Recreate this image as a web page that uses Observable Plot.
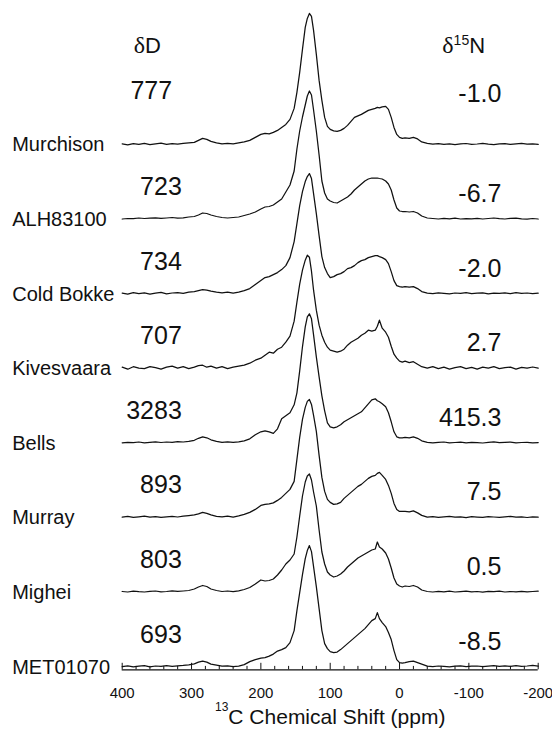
<!DOCTYPE html>
<html>
<head>
<meta charset="utf-8">
<script src="https://cdn.jsdelivr.net/npm/d3@7"></script>
<script src="https://cdn.jsdelivr.net/npm/@observablehq/plot@0.6"></script>
<style>
  html, body { margin: 0; padding: 0; background: #fff; }
  #chart svg { display: block; }
</style>
</head>
<body>
<div id="chart"></div>
<script>
// ---------------- data ----------------
const samples = ["Murchison", "ALH83100", "Cold Bokke", "Kivesvaara", "Bells", "Murray", "Mighei", "MET01070"];
const deltaD = ["777", "723", "734", "707", "3283", "893", "803", "693"];
const delta15N = ["-1.0", "-6.7", "-2.0", "2.7", "415.3", "7.5", "0.5", "-8.5"];

// 13C chemical shift grid (ppm)
const ppm = [400,392,384,376,368,360,352,344,336,328,320,312,304,296,
  290,284,278,272,
  264,256,248,240,232,224,216,208,200,
  194,188,182,176,170,164,158,152,
  148,144,140,136,133,130,127,124,120,116,112,108,104,100,
  95,90,85,80,75,70,65,60,55,50,45,40,35,
  32,29,25,20,16,12,8,4,0,
  -4,-8,-14,-20,-26,-32,
  -40,-48,-56,-64,-72,-80,-88,-96,-104,-112,-120,-128,-136,-144,-152,-160,-168,-176,-184,-192,-200];

// signal intensity (a.u.)
const murchison = [0.5,-0.5,0.8,0,1,-0.3,0.6,1.2,0,0.8,0.3,1,1.5,2,
  4,6,5,3,
  1.5,0.5,1,0.5,1.5,2.5,4,7,10,
  11,10.5,12,14,17,20,25,36,
  52,72,95,117,126,131,128,114,90,64,44,27,18,15,
  13.5,13,14,16,19,23,27,28.5,30,32,34,35,36,
  37,36.5,37.5,38,35,27,17,10,7,
  6,6.5,6,7,5.5,2.5,
  1,0.3,0.8,0,0.6,-0.2,0.5,0.9,0,0.4,1,0.2,-0.3,0.6,0.8,0,0.5,1,0.2,0.6,0];
const alh83100 = [0,0.5,0.3,1,0.5,0.8,1.2,0.6,1,1.5,0.8,1.2,2,2.5,
  4,6,5.5,4,
  2.5,1.5,1,1.5,2,3.5,5,7,10,
  12,12.5,14,17,20,27,34,48,
  70,88,102,114,123,128,124,109,88,64,38,26,20,18,
  16.5,16,18,20,22,25,29,32,35,38,40,41,41,
  41,40.5,40,38,35,29,19,11,8,
  7.5,7.5,7,7.5,6,3,
  1,0.5,0,0.6,0.2,0.8,0,0.4,0.2,0.7,0,0.5,1,0.3,0,0.6,0.9,0.2,-0.2,0.5,0];
const coldBokke = [0.5,-0.5,1,0,0.8,-0.5,0.5,1.2,-0.3,0.6,1,0.2,1.5,2,
  3,4,3.5,2.5,
  1.5,0.8,1.5,0.5,1.5,3,5,9,13,
  16,17,19,21,24,28,36,52,
  70,88,102,112,117,120,115,100,80,58,37,26,20,16,
  17,19,20,22,25,26,28,31,33,34,36,37,38,
  38,37,36,34,30,22,13,8,7,
  6.5,7,6.5,7,5,2,
  0.5,0,0.8,0.3,-0.3,0.6,0.2,1,0,0.4,0.8,-0.2,0.5,0.2,0.7,0,0.9,0.3,0.6,0,0.4];
const kivesvaara = [1,-1,1.5,0,-0.5,1.5,0.5,-1,1,2,0,1.5,-0.5,1,
  2.5,3,1,2,
  0,1.5,-0.5,1,2,3,5,8,10,
  13,16,15,19,21,26,32,47,
  66,84,98,108,113,111,97,78,58,43,33,26,21,18,
  17,16,17,19,23,26,28,30,33,35,38,37,38,
  42,48,40,36,31,22,14,10,7,
  6,7,5.5,6.5,4,1.5,
  0,1.5,-0.5,1,-1,0.5,1.5,-0.5,0.8,-1,1,0,1.5,-0.5,0.5,1,-1,0.8,0,1.2,0];
const bells = [0,0.5,0.2,0.8,0,0.5,1,0.3,0.8,0.5,1.2,0.8,1.5,2.5,
  4.5,6,5,3,
  1.5,0.5,1,0.5,1,2,4,8,11,
  12,11,9.5,14,24,27,30,38,
  50,72,96,116,126,129,124,108,86,66,47,32,20,16,
  15,16,18,21,23,25,27,29,31,35,39,43,44,
  42,41,39,36,30,21,11,6,5,
  5,5.5,5,6,4.5,2,
  0.5,0,0.4,0.8,0,0.3,0.6,0,0.5,0.2,-0.2,0.5,0.9,0.1,0.4,0.7,0,0.3,0.5,0,0.2];
const murray = [0.3,1,0,0.6,1.2,0.2,0.8,0,0.5,1,0.4,1.2,1.8,2.5,
  3.5,5,4,2.5,
  1,0.5,1.2,0.3,1.5,3,5,8,12,
  13,13.5,14.5,17,20,24,28,36,
  58,80,98,110,116,118,113,102,86,62,40,26,18,15,
  13,13.5,15,19,22,25,28,31,33,36,39,41,42,
  44,45,42,38,32,24,14,8,6,
  6,6,5.5,6.5,4.5,2,
  0.2,0.8,0,0.5,1,0.2,0.6,-0.2,0.7,0.3,0,0.8,0.4,0,0.6,1,0.2,0.5,-0.1,0.6,0.3];
const mighei = [0.5,0,0.8,0.3,0,0.6,1,0.2,0.5,1.2,0.6,1,1.5,3,
  5,6.5,5.5,3,
  1.5,0.5,1,0.3,1.2,2.5,4.5,8,12,
  11,11.5,13,17,22,28,32,38,
  55,76,96,110,116,118,112,100,86,62,40,28,20,17,
  15,16,18,21,25,28,31,34,36,38,40,42,43,
  50,45,43,39,33,24,14,8,6,
  5,6,5.5,6.5,5,2,
  0.5,0,0.6,0.2,0.8,0,0.4,0.9,0.1,0.5,-0.2,0.6,0.3,0.8,0,0.5,0.2,0.7,0.1,0.5,0.8];
const met01070 = [0,0.8,-0.3,0.5,1,-0.2,0.6,0.2,1,0.3,0.8,1.2,1.8,2.8,
  4.5,5.5,4.5,2.5,
  1.5,0.5,0.8,0,0.5,2,5,7,8.5,
  9,10.5,12.5,15.5,17,19,24,36,
  56,74,92,108,116,121,115,100,80,58,36,23,18,15,
  14,14.5,17,20,23,26,29,32,35,38,42,46,48,
  54,48,44,40,34,27,16,7,4,
  3.5,4,5,5.5,4,2.5,
  0.5,0,0.6,0.2,-0.2,0.5,0.8,0,0.4,0.6,0,0.5,1,0.2,0.8,0.3,1,0.2,0.6,1.2,0.5];

const spectra = [murchison, alh83100, coldBokke, kivesvaara, bells, murray, mighei, met01070];

const majorTicks = [400, 300, 200, 100, 0, -100, -200];
const minorTicks = [380,360,340,320,280,260,240,220,180,160,140,120,80,60,40,20,-20,-40,-60,-80,-120,-140,-160,-180];
const xTitle = "13C Chemical Shift (ppm)";

// ---------------- layout ----------------
spectra.forEach((s, i) => { if (s.length !== ppm.length) throw new Error(samples[i] + " length " + s.length + " vs " + ppm.length); });

const step = 74.6;           // vertical stacking step (a.u.)
const axisY = -3.2;          // y value of the x-axis line
const n = samples.length;
const offsetOf = i => (n - 1 - i) * step;

const traces = spectra.flatMap((vals, i) =>
  vals.map((v, j) => ({sample: samples[i], ppm: ppm[j], y: offsetOf(i) + v})));

const rows = samples.map((s, i) => ({i, name: s, dD: deltaD[i], dN: delta15N[i], off: offsetOf(i)}));

const font = "'Liberation Sans', Arial, Helvetica, sans-serif";
const ink = "#111";

const chart = Plot.plot({
  width: 552,
  height: 730,
  marginLeft: 121.7,
  marginRight: 14.3,
  marginTop: 0,
  marginBottom: 60.7,
  style: {fontFamily: font, background: "#fff", color: ink, overflow: "visible"},
  x: {domain: [400, -200], axis: null},
  y: {domain: [axisY, 666.1], axis: null},
  marks: [
    // spectra
    Plot.line(traces, {x: "ppm", y: "y", z: "sample", stroke: ink, strokeWidth: 1.25, curve: "linear"}),
    // x axis line and inward ticks
    Plot.ruleY([axisY], {x1: 400, x2: -200, stroke: ink, strokeWidth: 1.2}),
    Plot.ruleX(majorTicks, {x: d => d, y1: axisY, y2: axisY + 6.5, stroke: ink, strokeWidth: 1}),
    Plot.ruleX(minorTicks, {x: d => d, y1: axisY, y2: axisY + 3.4, stroke: ink, strokeWidth: 1}),
    Plot.text(majorTicks, {x: d => d, y: axisY, text: d => String(d), dy: 28, lineAnchor: "bottom", fontSize: 15, fill: ink}),
    Plot.text([xTitle], {x: 100, y: axisY, text: d => d, dy: 54, lineAnchor: "bottom", fontSize: 21, fill: ink}),
    // sample names
    Plot.text(rows, {x: 400, y: "off", text: "name", dx: -110, dy: 7, textAnchor: "start", lineAnchor: "bottom", fontSize: 20, fill: ink}),
    // deltaD values
    Plot.text(rows, {x: d => d.i === 0 ? 328 : 314, y: d => d.off + (d.i === 0 ? 45 : 24), text: "dD",
      textAnchor: "end", lineAnchor: "bottom", fontSize: 25, fill: ink}),
    // delta15N values
    Plot.text(rows, {x: -147, y: d => d.off + (d.i === 0 ? 42 : 17), text: "dN",
      textAnchor: "end", lineAnchor: "bottom", fontSize: 25, fill: ink}),
    // column headers
    Plot.text(["δD"], {x: 383.3, y: offsetOf(0) + 91.3, text: d => d, textAnchor: "start", lineAnchor: "bottom", fontSize: 22, fill: ink}),
    Plot.text(["δ15N"], {x: -61.7, y: offsetOf(0) + 91.3, text: d => d, textAnchor: "start", lineAnchor: "bottom", fontSize: 22, fill: ink})
  ]
});

// rich text: Greek delta in serif, superscript isotopes
const NS = "http://www.w3.org/2000/svg";
function richText(svg, match, parts) {
  svg.querySelectorAll("text").forEach(t => {
    if (t.textContent !== match) return;
    while (t.firstChild) t.removeChild(t.firstChild);
    for (const p of parts) {
      const s = document.createElementNS(NS, "tspan");
      s.textContent = p.text;
      if (p.size) s.setAttribute("font-size", p.size);
      if (p.family) s.setAttribute("font-family", p.family);
      if (p.dy) s.setAttribute("dy", p.dy);
      t.appendChild(s);
    }
  });
}
const serif = "'Liberation Serif', 'Times New Roman', serif";
richText(chart, "δD", [{text: "δ", family: serif, size: 24}, {text: "D", size: 22}]);
richText(chart, "δ15N", [{text: "δ", family: serif, size: 24}, {text: "15", size: 14, dy: -8}, {text: "N", size: 22, dy: 8}]);
richText(chart, xTitle, [{text: "13", size: 12, dy: -12.5}, {text: "C Chemical Shift (ppm)", dy: 12.5}]);

document.getElementById("chart").appendChild(chart);
</script>
</body>
</html>
